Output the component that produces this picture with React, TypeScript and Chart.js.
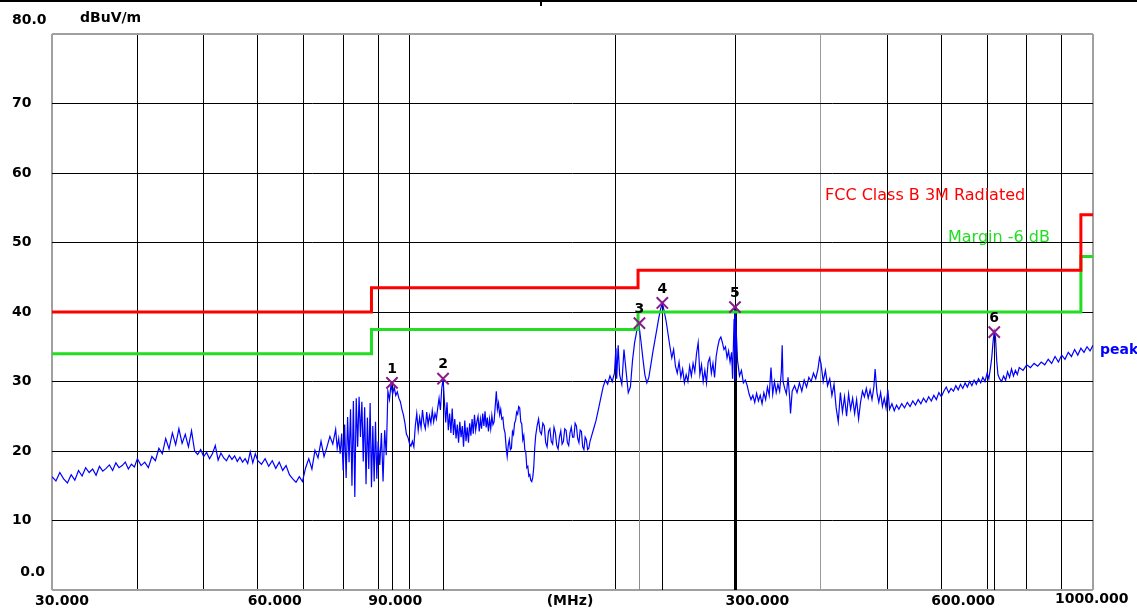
import React, { useEffect, useRef } from 'react';
import { Chart, registerables } from 'chart.js';

Chart.register(...registerables);

// ---- data ----
const xGridTicks = [30, 40, 50, 60, 70, 80, 90, 100, 200, 300, 400, 500, 600, 700, 800, 900, 1000];
const xLabelValues = [30, 60, 90, 300, 600, 1000];
const xLabelTexts = ['30.000', '60.000', '90.000', '300.000', '600.000', '1000.000'];
const yTickValues = [0, 10, 20, 30, 40, 50, 60, 70, 80];
const yTickTexts = ['0.0', '10', '20', '30', '40', '50', '60', '70', '80.0'];

const limitFreq = [30, 88, 88, 216, 216, 960, 960, 1000];
const limitLevel = [40, 40, 43.5, 43.5, 46, 46, 54, 54];
const marginFreq = [30, 88, 88, 216, 216, 960, 960, 1000];
const marginLevel = [34, 34, 37.5, 37.5, 40, 40, 48, 48];

const markerNo = ['1', '2', '3', '4', '5', '6'];
const markerFreq = [94.3, 112.0, 217.0, 234.4, 299.4, 717.0];
const markerLevel = [29.8, 30.4, 38.4, 41.3, 40.7, 37.1];

// [MHz, dBuV/m]
const peakTrace: [number, number][] = [
  [30.0,16.3],[30.4,15.7],[30.8,16.9],[31.2,16.0],[31.6,15.4],[32.0,16.6],[32.4,15.8],[32.8,17.2],[33.2,16.4],[33.6,17.6],
  [34.0,16.9],[34.4,17.4],[34.8,16.5],[35.2,17.8],[35.6,17.1],[36.0,17.5],[36.4,18.0],[36.8,17.2],[37.2,18.3],[37.6,17.6],
  [38.0,17.9],[38.4,18.4],[38.8,17.4],[39.2,18.1],[39.6,17.7],[40.0,18.9],
  [40.5,17.9],[41.0,18.4],[41.5,17.6],[42.0,19.2],[42.5,18.6],[43.0,20.4],[43.5,19.6],[44.0,21.8],[44.5,20.3],[45.0,22.6],
  [45.5,20.9],[46.0,23.2],[46.5,21.1],[47.0,22.4],[47.5,20.6],[48.0,22.9],[48.5,20.0],[49.0,19.5],[49.5,20.2],[50.0,19.2],
  [50.5,19.8],[51.0,18.9],[51.5,19.6],[52.0,20.8],[52.5,18.7],[53.0,19.7],[53.5,19.0],[54.0,18.6],[54.5,19.4],[55.0,18.8],
  [55.5,19.3],[56.0,18.5],[56.5,19.1],[57.0,18.4],[57.5,18.9],[58.0,18.2],[58.5,19.9],[59.0,18.3],[59.5,19.6],[60.0,18.6],
  [60.75,18.1],[61.5,18.9],[62.25,17.8],[63.0,18.6],[63.75,17.5],[64.5,18.4],[65.25,17.2],[66.0,17.9],[66.75,16.6],[67.5,16.0],
  [68.25,15.5],[69.0,16.3],[69.75,15.6],[70.5,17.6],[71.25,18.9],[72.0,17.4],[72.75,20.1],[73.5,19.0],[74.25,21.4],[75.0,19.2],
  [75.75,20.6],[76.5,22.1],[77.25,21.0],[78.0,23.1],
  [78.4,20.4],[78.8,21.8],[79.2,19.6],[79.6,22.5],[80.0,17.2],[80.4,23.8],[80.8,16.1],[81.2,24.9],[81.6,18.4],[82.0,26.0],
  [82.4,15.0],[82.8,27.2],[83.2,13.4],[83.6,27.6],[84.0,20.6],[84.4,27.8],[84.8,22.0],[85.2,27.1],[85.6,18.5],[86.0,26.3],
  [86.4,15.2],[86.8,24.8],[87.2,17.4],[87.6,26.9],[88.0,14.8],[88.4,23.6],[88.8,15.6],[89.2,24.2],[89.6,16.0],[90.0,21.4],
  [90.5,18.0],[91.0,22.6],[91.5,15.6],[92.0,23.0],[92.5,19.4],[93.0,28.6],[93.5,27.4],[94.0,29.6],[94.5,28.2],[95.0,29.2],
  [95.5,28.0],[96.0,28.5],[96.5,27.6],[97.0,27.1],[97.5,26.0],[98.0,25.2],[98.5,24.0],[99.0,22.4],[99.5,22.0],[100.0,21.1],
  [100.5,20.7],[101.0,21.4],[101.5,20.6],
  [102.0,23.6],[102.5,25.4],[103.0,23.0],[103.5,24.8],[104.0,23.4],[104.5,25.9],[105.0,24.0],[105.5,23.2],[106.0,25.6],[106.5,23.8],
  [107.0,25.1],[107.5,24.0],[108.0,25.8],[108.5,24.2],[109.0,25.4],[109.5,24.6],[110.0,26.2],[110.5,27.6],[111.0,25.9],[111.5,29.0],
  [112.0,30.4],[112.5,27.2],[113.0,24.1],[113.5,27.0],[114.0,23.0],[114.5,25.4],[115.0,22.6],[115.5,26.1],[116.0,22.3],[116.5,24.6],
  [117.0,21.8],[117.5,23.8],[118.0,21.2],[118.5,24.2],[119.0,22.0],[119.5,23.6],[120.0,20.6],[120.5,24.4],[121.0,21.4],[121.5,23.4],
  [122.0,21.2],[122.5,24.0],[123.0,22.2],[123.5,24.6],[124.0,22.5],[124.5,25.2],[125.0,23.0],[125.5,24.2],[126.0,25.0],[126.5,22.8],
  [127.0,24.6],[127.5,23.2],[128.0,25.4],[128.5,23.6],[129.0,25.7],[129.5,23.4],[130.0,24.8],[130.5,22.8],[131.0,24.6],[131.5,23.2],
  [132.0,25.1],[132.5,23.8],[133.0,24.2],[133.5,26.4],[134.0,28.6],[134.5,26.0],[135.0,26.9],[135.5,25.2],[136.0,26.0],[136.5,24.6],
  [137.0,24.8],[137.5,23.2],[138.0,22.6],[138.5,20.6],[139.0,19.2],[139.5,20.8],[140.0,21.6],[140.5,20.2],[141.0,20.4],[141.5,22.8],
  [142.0,22.4],[142.5,24.0],[143.0,24.4],[143.5,25.6],[144.0,25.3],[144.5,26.4],[145.0,26.2],[145.5,24.2],[146.0,23.9],[146.5,21.6],
  [147.0,22.2],[147.5,20.2],[148.0,19.8],[148.5,17.6],[149.0,17.8],[149.5,16.4],[150.0,16.6],[150.5,15.8],[151.0,15.6],[151.5,16.2],
  [152.0,17.6],[152.5,20.4],[153.0,22.2],
  [153.75,23.6],[154.5,24.6],[155.25,22.8],[156.0,22.4],[156.75,24.0],[157.5,23.6],[158.25,21.2],[159.0,20.6],[159.75,22.8],[160.5,23.2],
  [161.25,21.4],[162.0,21.0],[162.75,23.4],[163.5,22.6],[164.25,20.8],[165.0,20.3],[165.75,22.0],[166.5,22.9],[167.25,21.0],[168.0,21.4],
  [168.75,23.2],[169.5,23.0],[170.25,21.2],[171.0,20.8],[171.75,22.6],[172.5,23.4],[173.25,22.0],[174.0,22.0],[174.75,24.0],[175.5,23.6],
  [176.25,21.8],[177.0,21.2],[177.75,23.0],[178.5,22.8],[179.25,20.6],[180.0,20.2],[180.75,22.0],[181.5,21.6],[182.25,20.2],[183.0,20.4],
  [183.75,21.4],[184.5,22.0],[186.0,23.2],[187.5,24.4],[189.0,26.0],[190.5,27.6],[192.0,29.2],[193.5,30.2],[195.0,29.6],[196.5,30.8],
  [198.0,30.0],[199.5,31.2],[200.5,34.8],[201.0,30.4],[202.0,35.2],[203.0,31.0],[204.5,29.6],[206.0,34.6],[207.5,31.4],[209.0,28.4],
  [210.5,29.2],[212.0,33.0],[213.5,35.6],[215.0,37.2],[216.5,38.4],[218.0,36.0],[219.5,33.4],[221.0,31.0],[222.5,29.8],[224.0,30.6],
  [225.5,32.4],[227.0,34.2],[228.5,35.8],[230.0,37.4],[231.5,39.0],[233.0,40.4],[234.5,41.3],[236.0,40.0],[237.5,38.6],[239.0,36.8],
  [240.5,35.0],[242.0,33.4],[243.5,34.6],[245.0,32.2],[246.5,31.2],[248.0,32.8],[249.5,30.6],[251.0,31.8],[252.5,29.8],[254.0,31.0],
  [255.5,30.0],[257.0,32.2],[258.5,30.8],[260.0,32.6],[261.5,31.4],[263.0,34.0],[264.5,35.6],[266.0,31.0],[267.5,32.4],[269.0,30.0],
  [270.5,31.6],[272.0,29.8],[273.5,32.8],[275.0,33.4],[276.5,31.2],[278.0,32.6],[279.5,30.6],[281.0,33.6],[282.5,35.0],[284.0,36.0],
  [285.5,36.4],[287.0,35.6],[288.5,34.6],[290.0,35.0],[291.5,33.4],[293.0,34.4],[294.5,32.8],[296.0,34.2],[297.0,30.4],[298.0,36.2],
  [298.5,39.0],[299.0,34.0],[299.4,40.7],[299.7,30.2],[300.0,39.6],
  [302,33.0],[304,30.8],[306,31.6],[308,29.8],[310,30.2],[312,29.4],[314,28.2],[316,27.4],[318,28.0],[320,27.0],
  [322,28.3],[324,27.2],[326,28.0],[328,26.8],[330,28.4],[332,27.4],[334,29.2],[336,28.0],[338,32.0],[340,28.2],
  [342,30.0],[344,28.4],[346,29.6],[348,28.6],[350,31.4],[351,35.2],[352,30.0],[354,29.0],[356,28.2],[358,30.6],
  [360,27.6],[361,25.4],[363,28.6],[366,29.4],[369,28.4],[372,29.8],[375,28.6],[378,30.2],[381,29.2],[384,30.6],
  [387,30.0],[390,31.2],[393,30.4],[396,31.8],[398,33.4],[400,32.6],[403,30.0],[406,31.6],[409,29.4],[412,30.4],
  [415,28.0],[418,29.6],[421,26.2],[424,24.2],[427,28.4],[430,25.6],[433,27.8],[436,25.0],[439,28.2],[442,26.0],
  [445,27.6],[448,25.4],[451,27.4],[454,24.6],[457,27.0],[460,28.6],[463,27.8],[466,29.0],[469,27.6],[472,28.8],
  [475,27.4],[478,29.2],[480,31.8],[483,28.4],[486,27.0],[489,28.4],[492,26.4],[495,27.6],[498,26.2],[501,28.8],
  [504,26.0],[508,26.8],[512,25.8],[516,26.6],[520,26.0],[525,26.8],[530,26.2],[535,27.0],[540,26.4],[545,27.2],
  [550,26.6],[555,27.4],[560,26.8],[565,27.6],[570,27.0],[575,27.8],[580,27.2],[585,28.0],[590,27.4],[595,28.4],
  [600,27.8],
  [605,28.6],[610,29.2],[615,28.4],[620,29.0],[625,28.6],[630,29.4],[635,28.8],[640,29.6],[645,29.0],[650,29.8],
  [655,29.2],[660,30.0],[665,29.4],[670,30.2],[675,29.6],[680,30.4],[685,29.8],[690,30.6],[695,30.0],[700,31.2],
  [704,30.4],[708,32.0],[711,33.4],[714,35.6],[717,37.2],[720,36.4],[723,33.0],[726,31.0],[730,30.4],[735,30.0],
  [740,30.8],[745,30.2],[750,31.4],[755,30.6],[760,31.8],[765,30.8],[770,31.6],[775,31.0],[780,32.0],[790,31.6],
  [800,32.4],[810,32.0],[820,32.6],[830,32.2],[840,32.8],[850,32.4],[860,33.2],[870,32.6],[880,33.6],[890,32.8],
  [900,33.8],[910,33.2],[920,34.2],[930,33.6],[940,34.6],[950,33.8],[960,34.8],[970,34.2],[980,35.0],[990,34.4],
  [1000,35.2],
];

// ---- styles ----
const markerLineColors = ['#000', '#000', '#8c8c8c', '#000', '#000', '#000'];
const markerLineWidths = [1, 1, 1, 1, 3, 1];
const BORDER_GRAY = '#a0a0a0';
const AXIS_FONT = 'bold 14px "DejaVu Sans"';

const emcPlugin = {
  id: 'emcDecor',
  beforeDatasetsDraw(chart: any) {
    const { ctx, scales } = chart;
    const x = scales.x, y = scales.y;
    ctx.save();
    markerFreq.forEach((f, i) => {
      const px = Math.round(x.getPixelForValue(f)) + 0.5;
      const py = y.getPixelForValue(markerLevel[i]);
      ctx.strokeStyle = markerLineColors[i];
      ctx.lineWidth = markerLineWidths[i];
      ctx.beginPath();
      ctx.moveTo(px, py);
      ctx.lineTo(px, y.getPixelForValue(0));
      ctx.stroke();
    });
    ctx.restore();
  },
  afterDraw(chart: any) {
    const { ctx, scales } = chart;
    const x = scales.x, y = scales.y;
    ctx.save();
    // top frame decoration
    ctx.fillStyle = '#000';
    ctx.fillRect(0, 0, 1137, 2);
    ctx.fillRect(540, 0, 2, 6);

    ctx.font = AXIS_FONT;
    ctx.textBaseline = 'middle';
    ctx.fillStyle = '#000';
    yTickValues.forEach((v, i) => {
      const py = y.getPixelForValue(v);
      if (v === 80) {
        ctx.textAlign = 'left';
        ctx.fillText(yTickTexts[i], 12, py - 14);
      } else if (v === 0) {
        ctx.textAlign = 'right';
        ctx.fillText(yTickTexts[i], 45, py - 18);
      } else {
        ctx.textAlign = 'left';
        ctx.fillText(yTickTexts[i], 12, py);
      }
    });
    ctx.textAlign = 'left';
    ctx.fillText('dBuV/m', 80, 18);

    xLabelValues.forEach((v, i) => {
      const px = x.getPixelForValue(v);
      let off = -10;
      let yy = 601;
      if (v === 30) off = -17;
      if (v === 1000) { off = -38; yy = 599; }
      ctx.textAlign = 'left';
      ctx.fillText(xLabelTexts[i], px + off, yy);
    });
    ctx.textAlign = 'center';
    ctx.fillText('(MHz)', 570, 601);

    // marker numbers
    markerFreq.forEach((f, i) => {
      const px = x.getPixelForValue(f);
      const py = y.getPixelForValue(markerLevel[i]);
      ctx.fillStyle = '#000';
      ctx.textAlign = 'center';
      ctx.fillText(markerNo[i], px, py - 14);
    });

    // legend-like labels
    ctx.textAlign = 'left';
    ctx.font = '16px "DejaVu Sans"';
    ctx.fillStyle = '#ff0000';
    ctx.fillText('FCC Class B 3M Radiated', 825, 196);
    ctx.fillStyle = '#22dd22';
    ctx.fillText('Margin -6 dB', 948, 238);
    ctx.font = AXIS_FONT;
    ctx.fillStyle = '#0000ff';
    ctx.fillText('peak', 1100, 350);
    ctx.restore();
  },
};

export default function App() {
  const ref = useRef<HTMLCanvasElement>(null);
  useEffect(() => {
    const chart = new Chart(ref.current as HTMLCanvasElement, {
      type: 'line',
      data: {
        datasets: [
          {
            label: 'markers',
            data: markerFreq.map((f, i) => ({ x: f, y: markerLevel[i] })),
            showLine: false,
            pointStyle: 'crossRot',
            pointRadius: 8,
            pointBorderWidth: 2,
            pointBorderColor: '#8a1c8a',
            borderColor: '#8a1c8a',
            backgroundColor: '#8a1c8a',
          },
          {
            label: 'FCC Class B 3M Radiated',
            data: limitFreq.map((f, i) => ({ x: f, y: limitLevel[i] })),
            borderColor: '#ff0000',
            borderWidth: 3,
            pointRadius: 0,
            tension: 0,
          },
          {
            label: 'Margin -6 dB',
            data: marginFreq.map((f, i) => ({ x: f, y: marginLevel[i] })),
            borderColor: '#22dd22',
            borderWidth: 3,
            pointRadius: 0,
            tension: 0,
          },
          {
            label: 'peak',
            data: peakTrace.map(([f, l]) => ({ x: f, y: l })),
            borderColor: '#0000ff',
            borderWidth: 1.2,
            pointRadius: 0,
            tension: 0,
          },
        ],
      } as any,
      options: {
        animation: false,
        responsive: false,
        events: [],
        layout: { padding: { left: 52, top: 34, right: 44, bottom: 20 } },
        plugins: { legend: { display: false }, tooltip: { enabled: false } },
        scales: {
          x: {
            type: 'logarithmic',
            min: 30,
            max: 1000,
            afterBuildTicks: (s: any) => {
              s.ticks = xGridTicks.map((v) => ({ value: v }));
            },
            ticks: { display: false },
            border: { display: false },
            grid: {
              drawTicks: false,
              color: (c: any) => {
                const v = c.tick && c.tick.value;
                if (v === 30 || v === 1000) return BORDER_GRAY;
                if (v === 400) return '#999999';
                return '#000000';
              },
              lineWidth: (c: any) => {
                const v = c.tick && c.tick.value;
                return v === 30 || v === 1000 ? 2 : 1;
              },
            },
          },
          y: {
            type: 'linear',
            min: 0,
            max: 80,
            ticks: { display: false, stepSize: 10 },
            border: { display: false },
            grid: {
              drawTicks: false,
              color: (c: any) => {
                const v = c.tick && c.tick.value;
                return v === 0 || v === 80 ? BORDER_GRAY : '#000000';
              },
              lineWidth: (c: any) => {
                const v = c.tick && c.tick.value;
                return v === 0 || v === 80 ? 2 : 1;
              },
            },
          },
        },
      } as any,
      plugins: [emcPlugin],
    });
    return () => chart.destroy();
  }, []);
  return (
    <div style={{ position: 'fixed', left: 0, top: 0, width: 1137, height: 610, background: '#fff' }}>
      <canvas ref={ref} width={1137} height={610} style={{ display: 'block' }} />
    </div>
  );
}
